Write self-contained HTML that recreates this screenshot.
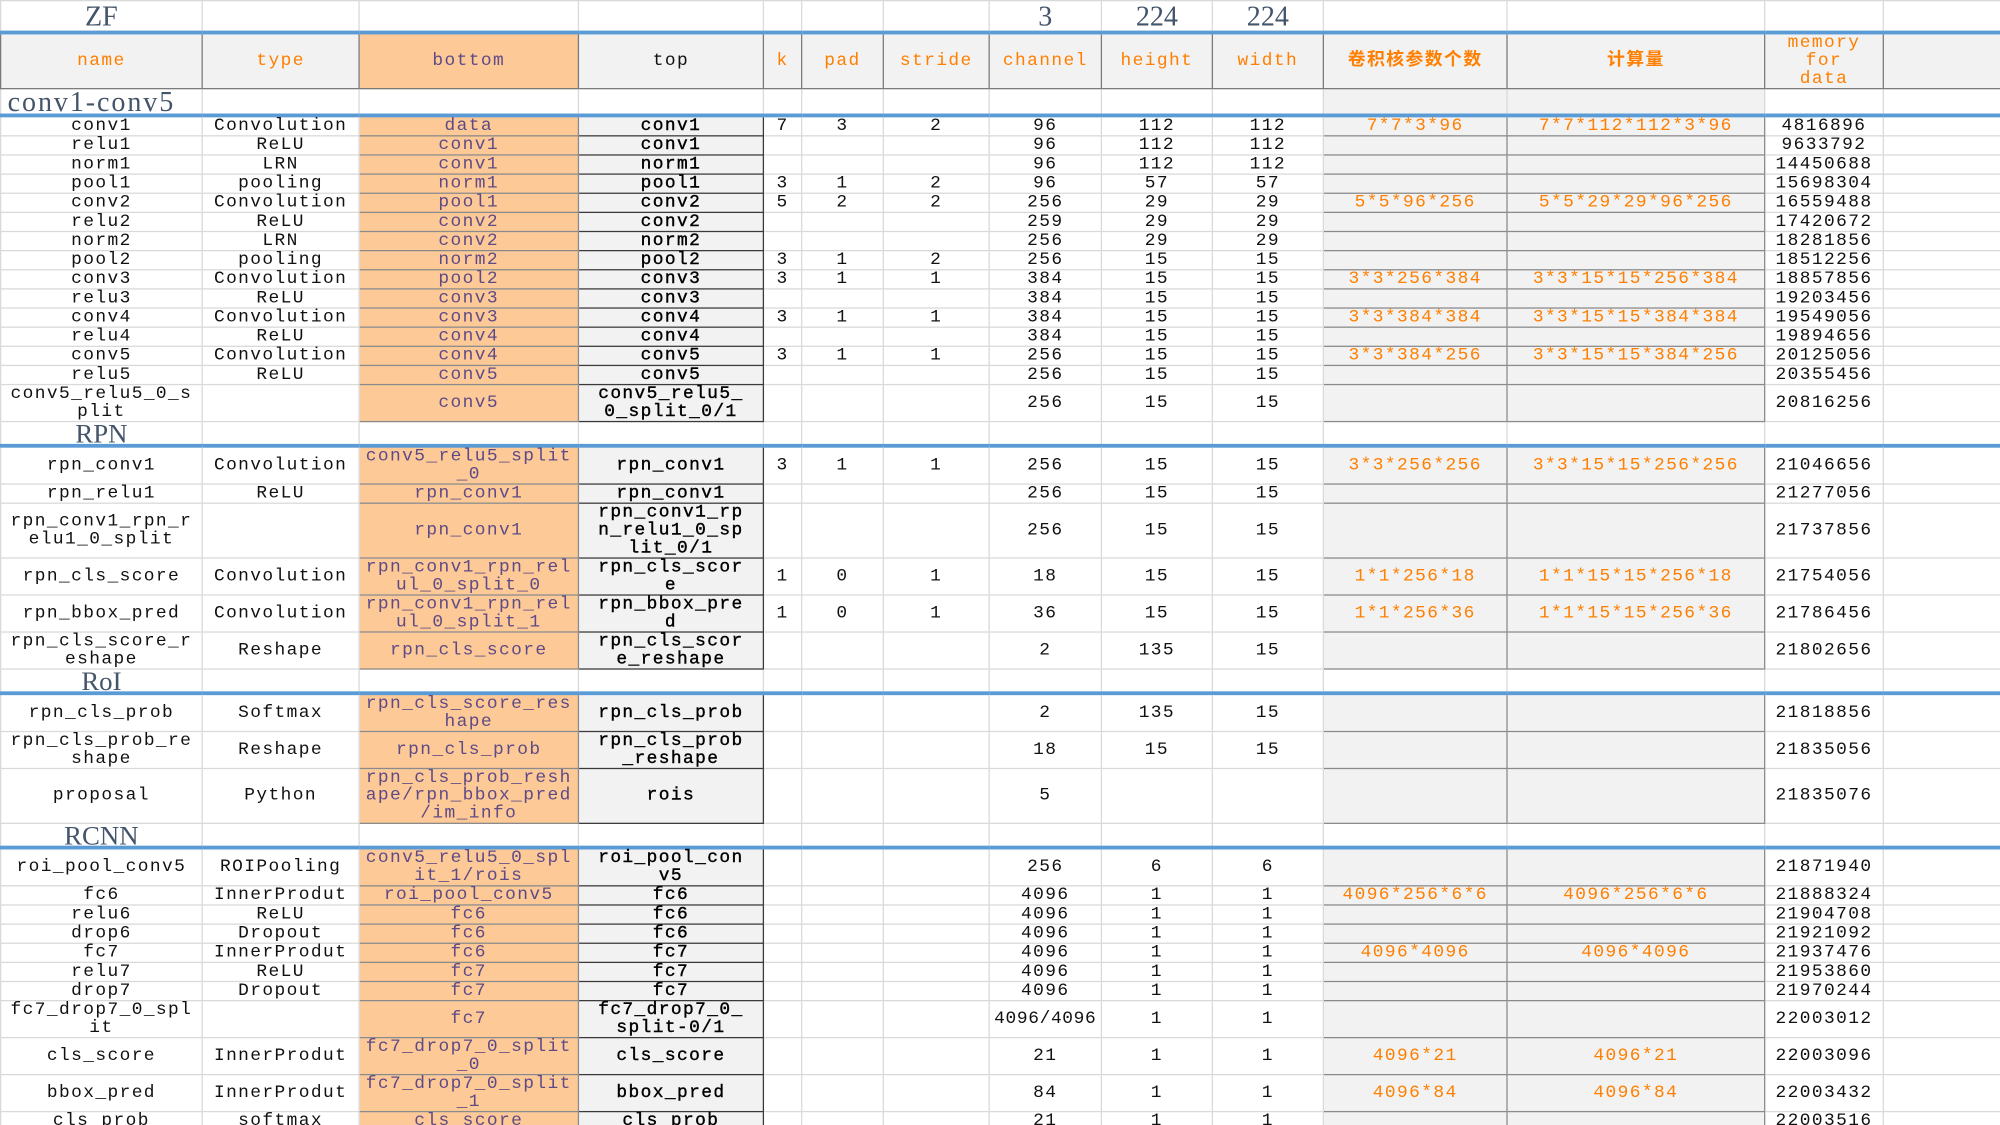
<!DOCTYPE html>
<html><head><meta charset="utf-8"><style>
html,body{margin:0;padding:0;background:#fff;width:2000px;height:1125px;overflow:hidden}
#w{transform:scale(1.27551);transform-origin:0 0;width:1568px}
table{border-collapse:collapse;table-layout:fixed;width:1568px;font-family:"Liberation Mono","Noto Sans CJK SC",monospace;font-size:14px;letter-spacing:1.1px;color:#111}
td{border:1px solid #d9d9d9;text-align:center;padding:0;line-height:14px;white-space:nowrap;overflow:visible;vertical-align:middle}
.b{background:#fcc997;color:#5e4a86;border-color:#8a8a8a}
.t{background:#f2f2f2;border:1.5px solid #3a3a3a;color:#000;-webkit-text-stroke:0.3px #000}
.g{background:#f2f2f2;border:1px solid #8a8a8a;color:#ff7f00}
.s td{border-bottom:3px solid #5b9bd5}
.sec{font-family:"Liberation Serif",serif;font-size:21px;color:#44546a;letter-spacing:0;text-align:center}
.top td{font-family:"Liberation Serif",serif;font-size:22px;color:#44546a;letter-spacing:0}
.h td{background:#f2f2f2;color:#ff7f00;border-color:#7a7a7a}
.h td.b{background:#fcc997;color:#5e4a86}
tr.r td{height:13.4px}
</style></head><body><div id="w"><table>
<colgroup><col style="width:158px"><col style="width:123px"><col style="width:172px"><col style="width:145px"><col style="width:30px"><col style="width:64px"><col style="width:83px"><col style="width:88px"><col style="width:87px"><col style="width:87px"><col style="width:144px"><col style="width:202px"><col style="width:93px"><col style="width:92px"></colgroup>
<tr class="top s" style="height:25px"><td>ZF</td><td></td><td></td><td></td><td></td><td></td><td></td><td>3</td><td>224</td><td>224</td><td></td><td></td><td></td><td></td></tr>
<tr class="h" style="height:42px"><td>name</td><td>type</td><td class="b">bottom</td><td style="color:#111">top</td><td>k</td><td>pad</td><td>stride</td><td>channel</td><td>height</td><td>width</td><td style="font-weight:bold">卷积核参数个数</td><td style="font-weight:bold">计算量</td><td>memory<br>for<br>data</td><td></td></tr>
<tr class="s" style="height:21px"><td class="sec" style="text-align:left;padding-left:5px;letter-spacing:1.5px;font-size:22px">conv1-conv5</td><td></td><td></td><td></td><td></td><td></td><td></td><td></td><td></td><td></td><td style="background:#f2f2f2"></td><td style="background:#f2f2f2"></td><td></td><td></td></tr>
<tr class="r"><td>conv1</td><td>Convolution</td><td class="b">data</td><td class="t">conv1</td><td>7</td><td>3</td><td>2</td><td>96</td><td>112</td><td>112</td><td class="g">7*7*3*96</td><td class="g">7*7*112*112*3*96</td><td>4816896</td><td></td></tr>
<tr class="r"><td>relu1</td><td>ReLU</td><td class="b">conv1</td><td class="t">conv1</td><td></td><td></td><td></td><td>96</td><td>112</td><td>112</td><td class="g"></td><td class="g"></td><td>9633792</td><td></td></tr>
<tr class="r"><td>norm1</td><td>LRN</td><td class="b">conv1</td><td class="t">norm1</td><td></td><td></td><td></td><td>96</td><td>112</td><td>112</td><td class="g"></td><td class="g"></td><td>14450688</td><td></td></tr>
<tr class="r"><td>pool1</td><td>pooling</td><td class="b">norm1</td><td class="t">pool1</td><td>3</td><td>1</td><td>2</td><td>96</td><td>57</td><td>57</td><td class="g"></td><td class="g"></td><td>15698304</td><td></td></tr>
<tr class="r"><td>conv2</td><td>Convolution</td><td class="b">pool1</td><td class="t">conv2</td><td>5</td><td>2</td><td>2</td><td>256</td><td>29</td><td>29</td><td class="g">5*5*96*256</td><td class="g">5*5*29*29*96*256</td><td>16559488</td><td></td></tr>
<tr class="r"><td>relu2</td><td>ReLU</td><td class="b">conv2</td><td class="t">conv2</td><td></td><td></td><td></td><td>259</td><td>29</td><td>29</td><td class="g"></td><td class="g"></td><td>17420672</td><td></td></tr>
<tr class="r"><td>norm2</td><td>LRN</td><td class="b">conv2</td><td class="t">norm2</td><td></td><td></td><td></td><td>256</td><td>29</td><td>29</td><td class="g"></td><td class="g"></td><td>18281856</td><td></td></tr>
<tr class="r"><td>pool2</td><td>pooling</td><td class="b">norm2</td><td class="t">pool2</td><td>3</td><td>1</td><td>2</td><td>256</td><td>15</td><td>15</td><td class="g"></td><td class="g"></td><td>18512256</td><td></td></tr>
<tr class="r"><td>conv3</td><td>Convolution</td><td class="b">pool2</td><td class="t">conv3</td><td>3</td><td>1</td><td>1</td><td>384</td><td>15</td><td>15</td><td class="g">3*3*256*384</td><td class="g">3*3*15*15*256*384</td><td>18857856</td><td></td></tr>
<tr class="r"><td>relu3</td><td>ReLU</td><td class="b">conv3</td><td class="t">conv3</td><td></td><td></td><td></td><td>384</td><td>15</td><td>15</td><td class="g"></td><td class="g"></td><td>19203456</td><td></td></tr>
<tr class="r"><td>conv4</td><td>Convolution</td><td class="b">conv3</td><td class="t">conv4</td><td>3</td><td>1</td><td>1</td><td>384</td><td>15</td><td>15</td><td class="g">3*3*384*384</td><td class="g">3*3*15*15*384*384</td><td>19549056</td><td></td></tr>
<tr class="r"><td>relu4</td><td>ReLU</td><td class="b">conv4</td><td class="t">conv4</td><td></td><td></td><td></td><td>384</td><td>15</td><td>15</td><td class="g"></td><td class="g"></td><td>19894656</td><td></td></tr>
<tr class="r"><td>conv5</td><td>Convolution</td><td class="b">conv4</td><td class="t">conv5</td><td>3</td><td>1</td><td>1</td><td>256</td><td>15</td><td>15</td><td class="g">3*3*384*256</td><td class="g">3*3*15*15*384*256</td><td>20125056</td><td></td></tr>
<tr class="r"><td>relu5</td><td>ReLU</td><td class="b">conv5</td><td class="t">conv5</td><td></td><td></td><td></td><td>256</td><td>15</td><td>15</td><td class="g"></td><td class="g"></td><td>20355456</td><td></td></tr>
<tr style="height:27px"><td>conv5_relu5_0_s<br>plit</td><td></td><td class="b">conv5</td><td class="t">conv5_relu5_<br>0_split_0/1</td><td></td><td></td><td></td><td>256</td><td>15</td><td>15</td><td class="g"></td><td class="g"></td><td>20816256</td><td></td></tr>
<tr class="s" style="height:19px"><td class="sec">RPN</td><td></td><td></td><td></td><td></td><td></td><td></td><td></td><td></td><td></td><td></td><td></td><td></td><td></td></tr>
<tr style="height:27px"><td>rpn_conv1</td><td>Convolution</td><td class="b">conv5_relu5_split<br>_0</td><td class="t">rpn_conv1</td><td>3</td><td>1</td><td>1</td><td>256</td><td>15</td><td>15</td><td class="g">3*3*256*256</td><td class="g">3*3*15*15*256*256</td><td>21046656</td><td></td></tr>
<tr style="height:15px"><td>rpn_relu1</td><td>ReLU</td><td class="b">rpn_conv1</td><td class="t">rpn_conv1</td><td></td><td></td><td></td><td>256</td><td>15</td><td>15</td><td class="g"></td><td class="g"></td><td>21277056</td><td></td></tr>
<tr style="height:40px"><td>rpn_conv1_rpn_r<br>elu1_0_split</td><td></td><td class="b">rpn_conv1</td><td class="t">rpn_conv1_rp<br>n_relu1_0_sp<br>lit_0/1</td><td></td><td></td><td></td><td>256</td><td>15</td><td>15</td><td class="g"></td><td class="g"></td><td>21737856</td><td></td></tr>
<tr style="height:28px"><td>rpn_cls_score</td><td>Convolution</td><td class="b">rpn_conv1_rpn_rel<br>ul_0_split_0</td><td class="t">rpn_cls_scor<br>e</td><td>1</td><td>0</td><td>1</td><td>18</td><td>15</td><td>15</td><td class="g">1*1*256*18</td><td class="g">1*1*15*15*256*18</td><td>21754056</td><td></td></tr>
<tr style="height:27px"><td>rpn_bbox_pred</td><td>Convolution</td><td class="b">rpn_conv1_rpn_rel<br>ul_0_split_1</td><td class="t">rpn_bbox_pre<br>d</td><td>1</td><td>0</td><td>1</td><td>36</td><td>15</td><td>15</td><td class="g">1*1*256*36</td><td class="g">1*1*15*15*256*36</td><td>21786456</td><td></td></tr>
<tr style="height:28px"><td>rpn_cls_score_r<br>eshape</td><td>Reshape</td><td class="b">rpn_cls_score</td><td class="t">rpn_cls_scor<br>e_reshape</td><td></td><td></td><td></td><td>2</td><td>135</td><td>15</td><td class="g"></td><td class="g"></td><td>21802656</td><td></td></tr>
<tr class="s" style="height:19px"><td class="sec">RoI</td><td></td><td></td><td></td><td></td><td></td><td></td><td></td><td></td><td></td><td></td><td></td><td></td><td></td></tr>
<tr style="height:27px"><td>rpn_cls_prob</td><td>Softmax</td><td class="b">rpn_cls_score_res<br>hape</td><td class="t">rpn_cls_prob</td><td></td><td></td><td></td><td>2</td><td>135</td><td>15</td><td class="g"></td><td class="g"></td><td>21818856</td><td></td></tr>
<tr style="height:29px"><td>rpn_cls_prob_re<br>shape</td><td>Reshape</td><td class="b">rpn_cls_prob</td><td class="t">rpn_cls_prob<br>_reshape</td><td></td><td></td><td></td><td>18</td><td>15</td><td>15</td><td class="g"></td><td class="g"></td><td>21835056</td><td></td></tr>
<tr style="height:41px"><td>proposal</td><td>Python</td><td class="b">rpn_cls_prob_resh<br>ape/rpn_bbox_pred<br>/im_info</td><td class="t">rois</td><td></td><td></td><td></td><td>5</td><td></td><td></td><td class="g"></td><td class="g"></td><td>21835076</td><td></td></tr>
<tr class="s" style="height:19px"><td class="sec">RCNN</td><td></td><td></td><td></td><td></td><td></td><td></td><td></td><td></td><td></td><td></td><td></td><td></td><td></td></tr>
<tr style="height:28px"><td>roi_pool_conv5</td><td>ROIPooling</td><td class="b">conv5_relu5_0_spl<br>it_1/rois</td><td class="t">roi_pool_con<br>v5</td><td></td><td></td><td></td><td>256</td><td>6</td><td>6</td><td class="g"></td><td class="g"></td><td>21871940</td><td></td></tr>
<tr class="r"><td>fc6</td><td>InnerProdut</td><td class="b">roi_pool_conv5</td><td class="t">fc6</td><td></td><td></td><td></td><td>4096</td><td>1</td><td>1</td><td class="g">4096*256*6*6</td><td class="g">4096*256*6*6</td><td>21888324</td><td></td></tr>
<tr class="r"><td>relu6</td><td>ReLU</td><td class="b">fc6</td><td class="t">fc6</td><td></td><td></td><td></td><td>4096</td><td>1</td><td>1</td><td class="g"></td><td class="g"></td><td>21904708</td><td></td></tr>
<tr class="r"><td>drop6</td><td>Dropout</td><td class="b">fc6</td><td class="t">fc6</td><td></td><td></td><td></td><td>4096</td><td>1</td><td>1</td><td class="g"></td><td class="g"></td><td>21921092</td><td></td></tr>
<tr class="r"><td>fc7</td><td>InnerProdut</td><td class="b">fc6</td><td class="t">fc7</td><td></td><td></td><td></td><td>4096</td><td>1</td><td>1</td><td class="g">4096*4096</td><td class="g">4096*4096</td><td>21937476</td><td></td></tr>
<tr class="r"><td>relu7</td><td>ReLU</td><td class="b">fc7</td><td class="t">fc7</td><td></td><td></td><td></td><td>4096</td><td>1</td><td>1</td><td class="g"></td><td class="g"></td><td>21953860</td><td></td></tr>
<tr class="r"><td>drop7</td><td>Dropout</td><td class="b">fc7</td><td class="t">fc7</td><td></td><td></td><td></td><td>4096</td><td>1</td><td>1</td><td class="g"></td><td class="g"></td><td>21970244</td><td></td></tr>
<tr style="height:27px"><td>fc7_drop7_0_spl<br>it</td><td></td><td class="b">fc7</td><td class="t">fc7_drop7_0_<br>split-0/1</td><td></td><td></td><td></td><td style="letter-spacing:0.5px">4096/4096</td><td>1</td><td>1</td><td class="g"></td><td class="g"></td><td>22003012</td><td></td></tr>
<tr style="height:29px"><td>cls_score</td><td>InnerProdut</td><td class="b">fc7_drop7_0_split<br>_0</td><td class="t">cls_score</td><td></td><td></td><td></td><td>21</td><td>1</td><td>1</td><td class="g">4096*21</td><td class="g">4096*21</td><td>22003096</td><td></td></tr>
<tr style="height:28px"><td>bbox_pred</td><td>InnerProdut</td><td class="b">fc7_drop7_0_split<br>_1</td><td class="t">bbox_pred</td><td></td><td></td><td></td><td>84</td><td>1</td><td>1</td><td class="g">4096*84</td><td class="g">4096*84</td><td>22003432</td><td></td></tr>
<tr class="r"><td>cls_prob</td><td>softmax</td><td class="b">cls_score</td><td class="t">cls_prob</td><td></td><td></td><td></td><td>21</td><td>1</td><td>1</td><td class="g"></td><td class="g"></td><td>22003516</td><td></td></tr>
</table></div></body></html>
